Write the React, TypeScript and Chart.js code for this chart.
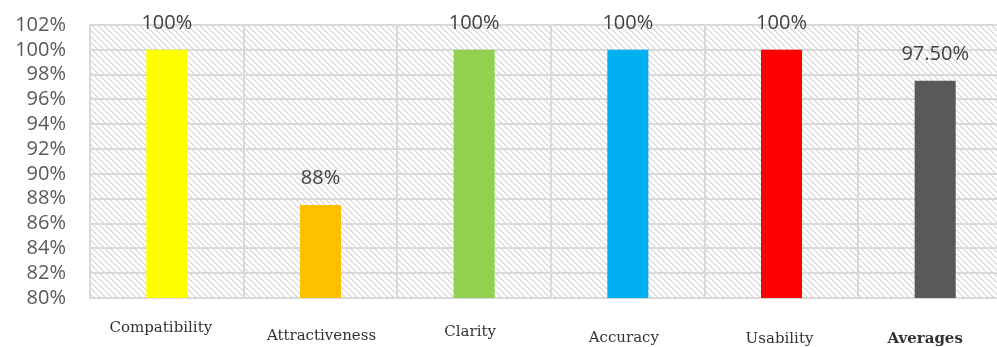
import React, { useEffect, useRef } from "react";
import { Chart, registerables } from "chart.js";

Chart.register(...registerables);

// Scores per criterion (percent)
const categories = ["Compatibility", "Attractiveness", "Clarity", "Accuracy", "Usability", "Averages"];
const scores = [100, 87.5, 100, 100, 100, 97.5];
const valueDecimals = [0, 0, 0, 0, 0, 2];
const barColors = ["#FFFF00", "#FFC000", "#92D050", "#00B0F0", "#FF0000", "#595959"];
const yTicks = { min: 80, max: 102, step: 2 };

// Small per-label nudges for the category captions (dx, dy in px)
const captionNudge: [number, number][] = [
  [-6, 0],
  [1, 8],
  [-4, 4],
  [-4, 10],
  [-2, 11],
  [-10, 11],
];

// Light diagonal hatch used behind the plot area
function makeHatch(): CanvasPattern | string {
  const tile = document.createElement("canvas");
  const n = 6;
  tile.width = n;
  tile.height = n;
  const c = tile.getContext("2d");
  if (!c) return "#ffffff";
  c.fillStyle = "#ffffff";
  c.fillRect(0, 0, n, n);
  for (let i = 0; i < n; i++) {
    c.fillStyle = "#d4d4d4";
    c.fillRect(i, i, 1, 1);
    c.fillStyle = "#e9e9e9";
    c.fillRect((i + 1) % n, i, 1, 1);
  }
  const p = c.createPattern(tile, "repeat");
  return p || "#ffffff";
}

export default function App() {
  const ref = useRef<HTMLCanvasElement | null>(null);

  useEffect(() => {
    if (!ref.current) return;
    const hatch = makeHatch();

    const plotBackground = {
      id: "plotBackground",
      beforeDraw(chart: any) {
        const { ctx, chartArea } = chart;
        ctx.save();
        ctx.fillStyle = hatch;
        ctx.fillRect(chartArea.left, chartArea.top, chartArea.right - chartArea.left, chartArea.bottom - chartArea.top);
        ctx.restore();
      },
    };

    const valueLabels = {
      id: "valueLabels",
      afterDatasetsDraw(chart: any) {
        const { ctx } = chart;
        const meta = chart.getDatasetMeta(0);
        ctx.save();
        ctx.font = '20px "Open Sans", "Noto Sans", sans-serif';
        ctx.fillStyle = "#404040";
        ctx.textAlign = "center";
        ctx.textBaseline = "middle";
        meta.data.forEach((bar: any, i: number) => {
          const text = scores[i].toFixed(valueDecimals[i]) + "%";
          ctx.fillText(text, bar.x, bar.y - 27);
        });
        ctx.restore();
      },
    };

    const categoryCaptions = {
      id: "categoryCaptions",
      afterDraw(chart: any) {
        const { ctx, chartArea } = chart;
        const xScale = chart.scales.x;
        ctx.save();
        ctx.fillStyle = "#333333";
        ctx.textAlign = "center";
        ctx.textBaseline = "middle";
        categories.forEach((name, i) => {
          const last = i === categories.length - 1;
          ctx.font = (last ? "bold " : "") + '15px "DejaVu Serif", serif';
          const [dx, dy] = captionNudge[i];
          ctx.fillText(name, xScale.getPixelForValue(i) + dx, chartArea.bottom + 30 + dy);
        });
        ctx.restore();
      },
    };

    const chart = new Chart(ref.current, {
      type: "bar",
      data: {
        labels: categories,
        datasets: [
          {
            data: scores,
            backgroundColor: barColors,
            borderWidth: 0,
            barPercentage: 0.267,
            categoryPercentage: 1,
          },
        ],
      },
      options: {
        animation: false,
        responsive: false,
        maintainAspectRatio: false,
        layout: { padding: { left: 0, right: 0, top: 25, bottom: 49 } },
        plugins: { legend: { display: false }, tooltip: { enabled: false } },
        scales: {
          x: {
            offset: true,
            grid: { color: "#d9d9d9", lineWidth: 2, offset: true, drawTicks: false },
            border: { color: "#d9d9d9", width: 2 },
            ticks: { display: false },
            afterFit(scale: any) {
              scale.height = 0;
            },
          },
          y: {
            min: yTicks.min,
            max: yTicks.max,
            grid: { color: "#d9d9d9", lineWidth: 2, drawTicks: false },
            border: { color: "#d9d9d9", width: 2 },
            ticks: {
              stepSize: yTicks.step,
              autoSkip: false,
              padding: 24,
              color: "#595959",
              font: { family: '"Open Sans", "Noto Sans", sans-serif', size: 20 },
              callback: (v: any) => v + "%",
            },
            afterFit(scale: any) {
              scale.width = 90;
              scale.paddingTop = 0;
              scale.paddingBottom = 0;
            },
          },
        },
      },
      plugins: [plotBackground, valueLabels, categoryCaptions],
    });

    return () => chart.destroy();
  }, []);

  return (
    <div style={{ position: "fixed", left: 0, top: 0, width: 997, height: 347, overflow: "hidden", background: "#fff" }}>
      <canvas ref={ref} width={1012} height={347} style={{ display: "block" }} />
    </div>
  );
}
